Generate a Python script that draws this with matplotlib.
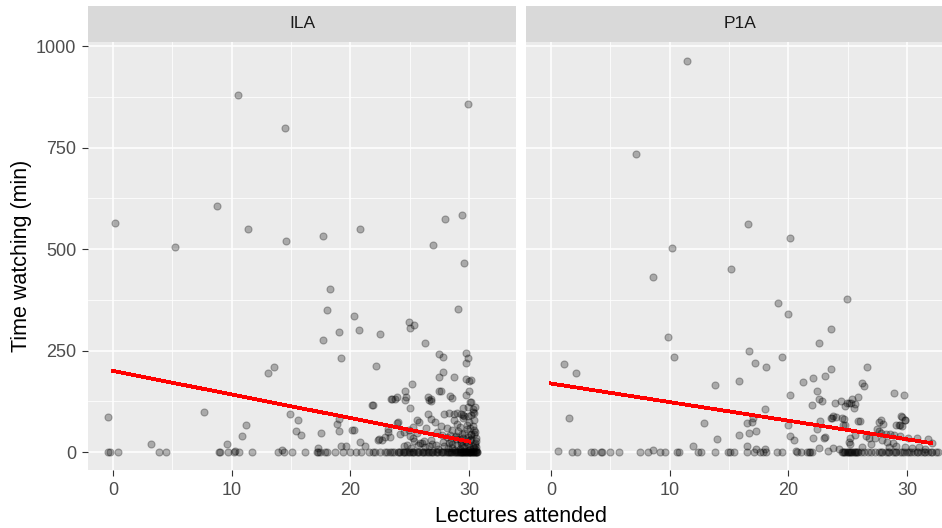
import numpy as np
import matplotlib.pyplot as plt

plt.rcParams['font.family'] = ['Liberation Sans', 'DejaVu Sans']

panels = ['ILA', 'P1A']

# ILA: points off the floor (lectures, minutes)
ila_x = [10.5, 14.5, 29.9, 0.2, 5.2, 8.8, 11.4, 14.6, 17.7, 20.8, 27.0, 28.0, 29.4, 29.6,
         18.3, 18.0, 20.3, 29.1, 20.7, 19.0, 22.5, 17.7, 24.9, 25.4, 25.0, 26.3, 19.2, 22.2,
         13.6, 13.1, 27.5, 27.8, 29.7, 29.9, 29.7, 27.8, 27.5, 28.7, 29.7, 30.0, 30.2,
         7.7, -0.4, 24.6, 25.2, 23.4, 23.8, 24.6, 27.5, 27.6, 26.6, 26.8, 28.6, 21.8, 25.0,
         30.2, 29.9, 29.5, 14.9, 15.6, 11.2, 18.9, 19.0, 15.4, 15.8, 10.9, 17.5, 19.0, 20.1,
         20.3, 9.6, 3.2, 10.3, 20.8, 21.2, 19.2, 19.6, 17.3, 14.2,
         24.7, 23.9, 23.5, 26.5, 26.8, 28.4, 21.9, 30.1, 30.4, 30.2, 26.5, 26.8, 27.1, 27.9,
         28.3, 28.7, 29.0, 29.3, 29.6, 25.6, 25.8, 24.0, 23.2, 23.3, 22.9, 22.7, 24.2, 24.5,
         25.0, 25.3, 25.6, 27.3, 27.7, 28.1, 28.8, 29.5, 29.9, 30.2, 30.6, 26.8, 26.2, 25.9,
         23.9, 22.3, 22.4, 23.2,
         24.5, 25.1, 25.7, 26.3, 26.9, 27.4, 27.9, 28.3, 28.6, 29.0, 29.3, 29.6, 29.9, 30.1,
         30.3, 30.5, 30.6, 28.1, 28.6, 29.2, 29.8, 30.3, 30.5, 29.4, 29.0, 30.0, 30.4, 27.6,
         26.4, 25.3, 24.9, 29.7, 30.0, 30.3, 29.5, 30.1, 30.4, 29.8, 30.6, 29.2, 28.9,
         28.5, 28.9, 29.3, 29.7, 30.1, 30.5, 28.2, 28.8, 29.4, 30.0, 30.6, 29.1, 29.6, 30.2,
         30.4, 29.8, 28.7, 29.5, 30.3, 30.5, 29.9, 28.4, 27.8, 27.2, 26.6, 26.0, 25.4, 24.8,
         30.0, 29.6, 30.4, 30.2, 29.2, 28.6]
ila_y = [880, 799, 858, 565, 506, 606, 550, 521, 532, 550, 509, 573, 583, 465,
         402, 350, 335, 353, 301, 295, 291, 276, 320, 312, 305, 268, 231, 213,
         209, 194, 242, 235, 243, 231, 220, 198, 184, 184, 179, 175, 177,
         98, 87, 150, 168, 130, 132, 129, 150, 151, 128, 126, 133, 116, 109,
         123, 112, 108, 94, 79, 68, 70, 82, 53, 42, 39, 46, 53, 55,
         54, 20, 20, 4, 25, 14, 14, 16, 9, 5,
         136, 136, 131, 136, 131, 139, 117, 124, 97, 91, 95, 81, 75, 95,
         96, 95, 97, 94, 90, 79, 75, 75, 58, 38, 38, 30, 45, 50,
         40, 35, 48, 50, 42, 38, 38, 35, 38, 32, 28, 30, 28, 22,
         72, 30, 33, 50,
         15, 10, 18, 12, 20, 8, 15, 22, 10, 18, 25, 12, 20, 8,
         15, 22, 5, 60, 55, 62, 58, 65, 50, 45, 70, 75, 80, 65,
         60, 62, 55, 140, 150, 105, 85, 60, 45, 30, 12, 8, 40,
         28, 32, 20, 26, 30, 18, 10, 6, 14, 12, 35, 52, 48, 42,
         55, 68, 78, 92, 100, 110, 88, 42, 24, 18, 14, 22, 28, 18,
         6, 4, 10, 45, 32, 20]

# ILA: students at zero minutes
ila_zero = [-0.4, -0.25, 0.4, 3.9, 4.5, 8.9, 9.0, 9.7, 10.2, 10.6, 11.7, 13.9, 14.4, 15.1,
            16.2, 17.2, 17.3, 17.4, 17.9, 18.0, 18.7, 19.4, 20.0, 20.5, 20.9, 21.6, 22.1,
            22.5, 22.9, 23.3, 23.7, 24.0, 24.2, 24.4, 24.6, 24.8, 25.0, 25.2, 25.4, 25.6,
            25.8, 26.0, 26.2, 26.4, 26.6, 26.8, 27.0, 27.2, 27.4, 27.6, 27.8, 28.0, 28.2,
            28.4, 28.6, 28.8, 29.0, 29.1, 29.2, 29.3, 29.4, 29.5, 29.6, 29.7, 29.8, 29.9,
            30.0, 30.1, 30.2, 30.3, 30.4, 30.5, 30.6, 30.7,
            24.1, 24.5, 24.9, 25.3, 25.7, 26.1, 26.5, 26.9, 27.3, 27.7, 28.1, 28.5, 28.9,
            29.15, 29.45, 29.75, 30.05, 30.35, 30.65, 28.3, 28.7, 29.35, 29.65, 29.95, 30.25,
            30.55, 21.9, 23.1, 23.5]

# P1A: points off the floor
p1a_x = [11.5, 7.2, 16.6, 20.1, 10.2, 15.2, 8.6, 24.9, 19.1, 20.0, 23.6, 9.9, 22.6, 16.7,
         19.5, 10.4, 17.2, 1.1, 18.1, 26.6, 23.6, 2.1, 23.1, 22.1, 15.8, 21.2, 26.2, 26.4,
         13.8, 22.4, 28.9, 29.7, 20.1, 22.6, 25.9, 24.4, 25.1, 25.3, 25.6, 22.0, 1.5, 18.0,
         12.9, 16.5, 16.9, 17.0, 22.7, 23.6, 23.8, 24.7, 24.8, 26.0, 29.5, 29.8, 29.3, 29.1,
         20.0, 22.4, 17.3, 16.7, 15.8, 14.0, 20.1, 20.5, 22.1, 23.1, 16.5, 17.3, 18.0, 12.0,
         32.1, 24.3, 22.6, 20.6, 0.6, 8.6,
         23.9, 24.9, 24.8, 25.4, 25.5, 22.8, 24.0, 23.7, 24.5, 24.6, 25.9, 29.6, 29.8, 29.4,
         29.6, 23.0, 23.3, 23.8, 25.1, 25.2, 25.6, 25.2,
         27.5, 27.6, 27.8, 28.2, 28.6, 28.9, 29.4, 30.1, 30.8, 31.8, 26.5, 26.8, 27.3, 27.9,
         28.3, 28.8, 27.0, 26.2, 28.5, 29.1, 29.8, 30.4, 31.0, 31.5, 27.6, 28.0, 27.8]
p1a_y = [962, 735, 561, 528, 502, 450, 432, 376, 368, 339, 302, 283, 269, 250,
         235, 235, 220, 217, 210, 210, 205, 194, 187, 183, 176, 172, 170, 163,
         165, 150, 145, 140, 140, 132, 135, 125, 120, 122, 118, 117, 83, 105,
         72, 72, 73, 85, 76, 85, 88, 82, 68, 76, 88, 80, 67, 66,
         66, 58, 52, 46, 43, 33, 40, 30, 34, 38, 15, 7, 8, 15,
         22, 7, 10, 3, 4, 5,
         120, 120, 113, 130, 108, 126, 87, 85, 85, 67, 76, 87, 79, 67,
         64, 35, 3, 9, 25, 36, 42, 20,
         58, 52, 47, 45, 44, 42, 40, 35, 36, 33, 40, 35, 35, 30,
         25, 22, 20, 12, 12, 15, 12, 10, 12, 8, 75, 70, 80]

# P1A: students at zero minutes
p1a_zero = [1.8, 2.2, 3.4, 3.6, 4.2, 4.3, 5.0, 5.7, 7.5, 8.2, 9.2, 9.6, 10.6, 10.8, 12.4,
            12.6, 13.8, 14.9, 15.1, 15.4, 16.5, 17.1, 17.6, 17.9, 18.1, 19.0, 19.5, 20.7,
            21.1, 21.6, 21.7, 21.85, 22.0,
            24.5, 24.7, 24.9, 25.1, 25.3, 25.5, 25.7, 25.9, 26.1, 26.4, 26.7, 27.0, 27.3,
            27.6, 27.9, 28.2, 28.5, 28.8, 29.1, 29.4, 29.7, 30.0, 30.3, 30.6, 30.9, 31.2,
            31.5, 31.8, 32.1, 32.4, 32.6,
            24.6, 24.8, 25.0, 25.2, 25.4, 25.6, 25.8, 27.8, 28.4, 29.0, 29.6, 30.2, 30.8,
            31.4, 32.0]

# linear fits (intercept, slope, x end)
fit_b0 = [200, 169]
fit_b1 = [-5.8, -4.58]
fit_xmax = [30, 32]

W, H = 942, 528
fig = plt.figure(figsize=(W / 100, H / 100), dpi=100)

panel_left = [88, 526]
panel_w = 428
panel_top, panel_bot = 42, 470
strip_top = 6

xs_all = [(ila_x, ila_y, ila_zero), (p1a_x, p1a_y, p1a_zero)]

for i, name in enumerate(panels):
    ax = fig.add_axes([panel_left[i] / W, (H - panel_bot) / H,
                       panel_w / W, (panel_bot - panel_top) / H])
    ax.set_facecolor('#EBEBEB')
    for s in ax.spines.values():
        s.set_visible(False)

    px, py, pz = xs_all[i]
    ax.scatter(px + pz, py + [0] * len(pz), s=26, c='black', alpha=0.28,
               linewidths=0.8, edgecolors='black', zorder=3)

    xx = np.array([0, fit_xmax[i]])
    ax.plot(xx, fit_b0[i] + fit_b1[i] * xx, color='red', lw=2.0,
            antialiased=False, zorder=4)

    ax.set_xlim(-2.1, 33.95)
    ax.set_ylim(-44, 1010)
    ax.set_xticks([0, 10, 20, 30])
    ax.set_xticks([5, 15, 25], minor=True)
    ax.set_yticks([0, 250, 500, 750, 1000])
    ax.set_yticks([125, 375, 625, 875], minor=True)
    ax.grid(which='major', color='white', lw=1.1)
    ax.grid(which='minor', color='white', lw=0.55)
    ax.set_axisbelow(True)
    ax.tick_params(which='major', length=4.3, width=0.8, color='#333333',
                   labelcolor='#4D4D4D', labelsize=13, pad=4)
    ax.tick_params(which='minor', length=0)
    if i > 0:
        ax.tick_params(axis='y', which='both', left=False, labelleft=False)

    sax = fig.add_axes([panel_left[i] / W, (H - panel_top) / H,
                        panel_w / W, (panel_top - strip_top) / H])
    sax.set_facecolor('#D9D9D9')
    sax.set_xticks([])
    sax.set_yticks([])
    for s in sax.spines.values():
        s.set_visible(False)
    sax.text(0.5, 0.5, name, ha='center', va='center', fontsize=12.5,
             color='#1A1A1A', transform=sax.transAxes)

fig.text(521 / W, 1 - 516 / H, 'Lectures attended', ha='center', va='center',
         fontsize=15.5, color='black')
fig.text(22 / W, 1 - 256 / H, 'Time watching (min)', ha='center', va='center',
         rotation=90, fontsize=15.5, color='black')

fig.savefig('out.png', dpi=100, facecolor='white')
